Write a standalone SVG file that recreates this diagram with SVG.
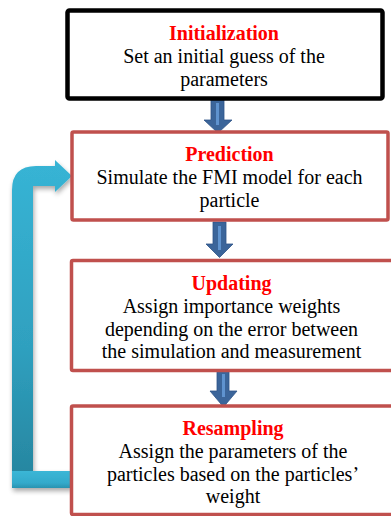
<svg xmlns="http://www.w3.org/2000/svg" width="391" height="516" viewBox="0 0 391 516">
<defs>
<style>
.box{fill:#fff;stroke:#C0504D;stroke-width:3.5}
.box0{fill:#fff;stroke:#000;stroke-width:4.5}
.t{font-family:"Liberation Serif","Times New Roman",serif;font-size:20px;text-anchor:middle;fill:#000}
.h{font-weight:bold;fill:#FF0000}
.arr{fill:#3B659A;stroke:#2F5488;stroke-width:0.8}
.stripe{fill:#5F93CF}
</style>
<linearGradient id="loopg" x1="0" y1="0" x2="0" y2="1">
<stop offset="0" stop-color="#37B4D5"/>
<stop offset="0.6" stop-color="#2FA0BF"/>
<stop offset="1" stop-color="#2787A1"/>
</linearGradient>
<linearGradient id="botg" x1="0" y1="0" x2="0" y2="1">
<stop offset="0" stop-color="#3BB6D6"/>
<stop offset="0.7" stop-color="#33AACB"/>
<stop offset="1" stop-color="#2A93B0"/>
</linearGradient>
<filter id="sh" x="-30%" y="-10%" width="160%" height="130%">
<feGaussianBlur in="SourceAlpha" stdDeviation="2.5"/>
<feOffset dx="1" dy="3" result="b"/>
<feComponentTransfer><feFuncA type="linear" slope="0.35"/></feComponentTransfer>
<feMerge><feMergeNode/><feMergeNode in="SourceGraphic"/></feMerge>
</filter>
</defs>

<g id="connectors">
<g id="loop" filter="url(#sh)">
<path d="M12 472 L12 190 Q12 166 36 166 L55 166 L55 160 L72 176 L55 192 L55 186 L33 186 L33 472 Z" fill="url(#loopg)"/>
<rect x="12" y="471" width="60" height="17" fill="url(#botg)"/>
</g>
<g id="a1">
<path class="arr" d="M211 100 L224 100 L224 120 L232 120 L218 133 L204 120 L211 120 Z"/>
<rect class="stripe" x="216" y="103" width="3" height="22"/>
</g>
<g id="a2">
<path class="arr" d="M213 222 L226 222 L226 244 L233 244 L219.5 257.5 L206 244 L213 244 Z"/>
<rect class="stripe" x="218" y="226" width="3" height="24"/>
</g>
<g id="a3">
<path class="arr" d="M217 370 L229 370 L229 391 L237 391 L223.5 407 L210 391 L217 391 Z"/>
<rect class="stripe" x="222" y="374" width="3" height="23"/>
</g>
</g>

<g id="init">
<rect class="box0" x="67.5" y="10.5" width="315" height="88" rx="2"/>
<text class="t h" x="224" y="40">Initialization</text>
<text class="t" x="224" y="63">Set an initial guess of the</text>
<text class="t" x="224" y="86">parameters</text>
</g>

<g id="prediction">
<rect class="box" x="72" y="132" width="316" height="88" rx="1.5"/>
<text class="t h" x="229.5" y="161">Prediction</text>
<text class="t" x="229.5" y="184">Simulate the FMI model for each</text>
<text class="t" x="229.5" y="207">particle</text>
</g>

<g id="updating">
<rect class="box" x="71.5" y="260.5" width="330" height="110" rx="1.5"/>
<text class="t h" x="231.5" y="290">Updating</text>
<text class="t" x="231.5" y="313">Assign importance weights</text>
<text class="t" x="231.5" y="335.5">depending on the error between</text>
<text class="t" x="231.5" y="358">the simulation and measurement</text>
</g>

<g id="resampling">
<rect class="box" x="71.5" y="406" width="330" height="108.5" rx="1.5"/>
<text class="t h" x="233" y="435">Resampling</text>
<text class="t" x="233" y="458">Assign the parameters of the</text>
<text class="t" x="233" y="481">particles based on the particles’</text>
<text class="t" x="233" y="503">weight</text>
</g>
</svg>
